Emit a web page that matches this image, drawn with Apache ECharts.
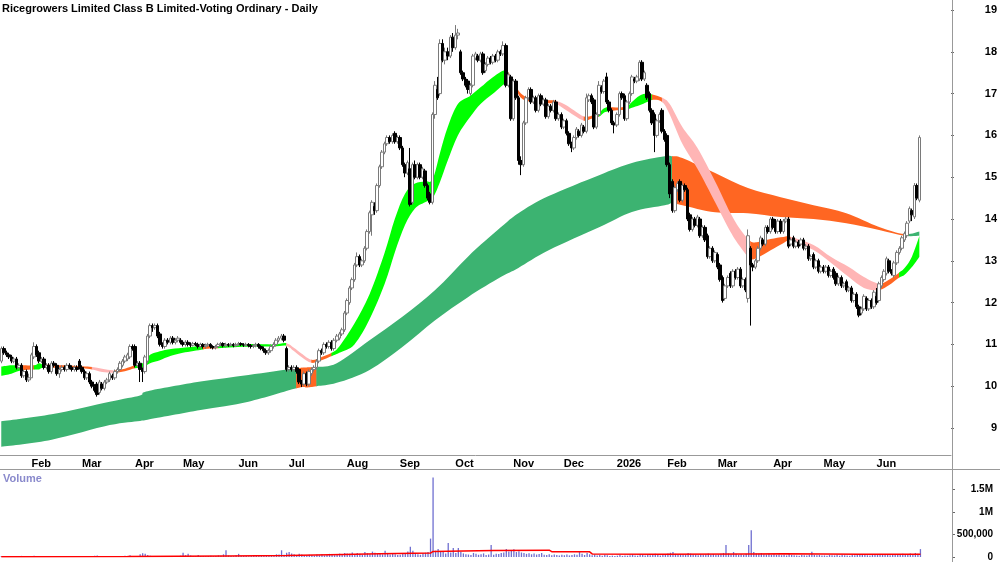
<!DOCTYPE html>
<html>
<head>
<meta charset="utf-8">
<script src="https://cdn.jsdelivr.net/npm/echarts@6/dist/echarts.min.js"></script>
<style>
  html, body { margin: 0; padding: 0; background: #fff; }
  #chart { width: 1000px; height: 562px; }
</style>
</head>
<body>
<div id="chart"></div>
<script>
// ---- data ----
const startDate = '2025-01-15';
const endDate = '2026-06-25';
const holidays = ['2025-01-27', '2025-04-18', '2025-04-21', '2025-04-25', '2025-06-09', '2025-12-25', '2025-12-26',
  '2026-01-01', '2026-01-26', '2026-04-03', '2026-04-06', '2026-06-08'];
const monthNames = ['Jan', 'Feb', 'Mar', 'Apr', 'May', 'Jun', 'Jul', 'Aug', 'Sep', 'Oct', 'Nov', 'Dec'];

// [open, close, low, high] per trading day
const ohlc = [
  [10.6,10.9,10.55,10.95],[10.9,10.8,10.75,10.95],[10.8,10.75,10.7,10.85],[10.75,10.7,10.65,10.8],[10.7,10.6,10.55,10.75],
  [10.6,10.65,10.55,10.7],[10.65,10.45,10.4,10.7],[10.45,10.5,10.4,10.55],[10.5,10.25,10.2,10.55],[10.25,10.35,10.2,10.4],
  [10.35,10.15,10.1,10.4],[10.15,10.2,10.1,10.3],[10.2,10.75,10.2,10.8],[10.7,10.95,10.65,11.05],[10.95,10.75,10.7,11.0],
  [10.8,10.6,10.55,10.85],[10.6,10.65,10.55,10.7],[10.65,10.45,10.4,10.7],[10.45,10.5,10.4,10.55],[10.5,10.35,10.3,10.55],
  [10.35,10.55,10.3,10.6],[10.55,10.5,10.45,10.6],[10.5,10.3,10.25,10.55],[10.3,10.4,10.2,10.45],[10.4,10.45,10.35,10.5],
  [10.45,10.4,10.35,10.5],[10.4,10.5,10.35,10.55],[10.5,10.45,10.4,10.55],[10.45,10.4,10.35,10.5],[10.4,10.45,10.35,10.5],
  [10.45,10.4,10.35,10.5],[10.6,10.45,10.4,10.65],[10.45,10.35,10.3,10.5],[10.35,10.2,10.15,10.4],[10.2,10.3,10.15,10.35],
  [10.3,10.1,10.05,10.35],[10.1,10.0,9.95,10.15],[10.0,9.9,9.85,10.05],[10.05,9.8,9.75,10.1],[9.85,10.1,9.8,10.15],
  [10.05,9.95,9.9,10.1],[9.95,10.1,9.9,10.15],[10.1,10.15,10.05,10.2],[10.15,10.3,10.1,10.35],[10.25,10.2,10.15,10.3],
  [10.2,10.35,10.15,10.4],[10.35,10.4,10.3,10.45],[10.4,10.55,10.35,10.6],[10.5,10.6,10.45,10.65],[10.6,10.7,10.55,10.75],
  [10.65,10.75,10.6,10.8],[10.7,10.95,10.65,11.0],[10.95,10.9,10.85,11.0],[10.95,10.5,10.45,11.0],[10.5,10.55,10.45,10.6],
  [10.55,10.4,10.1,10.6],[10.4,10.35,10.1,10.45],[10.35,10.7,10.3,10.75],[10.6,11.2,10.55,11.25],[11.2,11.45,11.15,11.5],
  [11.45,11.4,11.3,11.5],[11.4,11.45,11.35,11.5],[11.45,11.2,11.15,11.5],[11.25,11.0,10.95,11.3],[11.0,10.95,10.9,11.05],
  [10.95,11.1,10.9,11.15],[11.1,11.05,11.0,11.15],[11.05,11.15,11.0,11.2],[11.15,11.05,11.0,11.2],[11.05,11.1,11.0,11.15],
  [11.1,11.15,11.05,11.2],[11.1,11.05,11.0,11.15],[11.05,11.0,10.95,11.1],[11.0,11.05,10.95,11.1],[11.05,11.0,10.95,11.1],
  [11.0,10.98,10.93,11.05],[10.98,11.02,10.95,11.06],[11.02,11.0,10.96,11.06],[11.0,10.95,10.9,11.04],[10.95,11.0,10.9,11.04],
  [11.0,10.95,10.9,11.03],[10.95,10.98,10.9,11.02],[10.98,11.0,10.94,11.04],[11.0,10.95,10.9,11.03],[10.95,10.92,10.88,10.98],
  [10.92,10.95,10.88,10.99],[10.95,11.0,10.92,11.04],[11.0,11.02,10.96,11.06],[11.02,10.97,10.93,11.05],[10.97,11.0,10.93,11.04],
  [11.0,10.98,10.94,11.03],[10.98,11.0,10.95,11.04],[11.0,10.97,10.93,11.03],[10.97,11.0,10.94,11.04],[11.0,11.02,10.96,11.06],
  [11.02,11.0,10.96,11.05],[11.0,10.98,10.94,11.03],[10.98,11.0,10.95,11.04],[11.0,10.97,10.93,11.03],[10.97,10.95,10.9,11.01],
  [10.95,10.97,10.91,11.01],[10.97,11.0,10.93,11.04],[11.0,10.95,10.9,11.03],[10.95,10.9,10.86,10.98],[10.9,10.85,10.8,10.95],
  [10.85,10.8,10.75,10.9],[10.8,10.85,10.75,10.9],[10.85,10.95,10.8,11.0],[10.95,11.0,10.9,11.05],[11.0,11.1,10.95,11.15],
  [11.1,11.15,11.05,11.2],[11.15,11.2,11.1,11.25],[11.2,11.1,11.05,11.25],[10.9,10.4,10.35,10.95],[10.4,10.45,10.35,10.5],
  [10.45,10.4,10.35,10.5],[10.4,10.45,10.35,10.5],[10.45,10.35,10.3,10.5],[10.4,10.1,10.05,10.45],[10.1,10.05,9.98,10.15],
  [10.05,10.3,10.0,10.35],[10.3,10.05,10.0,10.35],[10.05,10.35,10.0,10.4],[10.3,10.4,10.25,10.45],[10.4,10.45,10.35,10.5],
  [10.45,10.6,10.4,10.65],[10.6,10.85,10.55,10.9],[10.85,10.8,10.75,10.9],[10.8,11.0,10.75,11.05],[11.0,10.95,10.9,11.05],
  [10.95,11.05,10.9,11.1],[11.05,10.9,10.85,11.1],[10.9,11.1,10.85,11.15],[11.1,11.2,11.05,11.25],[11.15,11.25,11.1,11.3],
  [11.25,11.35,11.2,11.4],[11.35,11.75,11.3,11.8],[11.75,12.05,11.7,12.1],[12.0,12.35,11.95,12.4],[12.35,12.55,12.3,12.6],
  [12.55,12.9,12.5,12.95],[12.9,13.1,12.85,13.2],[13.1,12.9,12.85,13.15],[12.9,13.0,12.85,13.05],[13.0,13.3,12.95,13.35],
  [13.3,13.7,13.25,13.75],[13.7,14.15,13.65,14.2],[14.1,14.4,13.6,14.45],[14.3,14.2,14.1,14.4],[14.2,14.8,14.15,14.85],
  [14.8,15.25,14.75,15.3],[15.25,15.6,15.2,15.65],[15.6,15.8,15.55,15.85],[15.8,15.95,15.75,16.0],[15.95,15.85,15.8,16.0],
  [15.85,16.0,15.8,16.05],[16.05,15.85,15.8,16.1],[15.85,15.95,15.8,16.0],[15.95,15.7,15.65,16.0],[15.7,15.3,15.25,15.75],
  [15.3,15.1,15.0,15.35],[15.1,15.35,15.05,15.4],[15.2,14.35,14.3,15.7],[14.4,15.3,14.35,15.35],[15.3,15.0,14.95,15.4],
  [15.0,15.3,14.95,15.35],[15.3,15.0,14.95,15.35],[15.0,15.2,14.95,15.25],[15.15,14.8,14.75,15.2],[14.8,14.5,14.45,14.85],
  [14.6,14.4,14.35,14.65],[14.4,16.5,14.35,16.55],[16.5,17.2,16.4,17.3],[17.1,16.9,16.85,17.4],[17.0,18.2,16.95,18.3],
  [18.2,17.8,17.75,18.3],[17.8,18.0,17.7,18.1],[18.0,17.9,17.8,18.1],[17.9,18.35,17.85,18.4],[18.35,18.1,18.0,18.45],
  [18.1,18.4,18.05,18.64],[18.4,18.45,18.3,18.55],[18.0,17.5,17.45,18.05],[17.5,17.35,17.3,17.55],[17.35,17.2,17.15,17.4],
  [17.3,17.1,17.0,17.35],[17.0,17.2,16.95,17.25],[17.2,17.9,17.15,17.95],[17.85,17.95,17.8,18.0],[17.9,17.8,17.75,17.95],
  [17.8,17.95,17.75,18.0],[17.95,17.5,17.45,18.0],[17.55,17.7,17.5,17.75],[17.7,17.85,17.65,17.9],[17.85,17.75,17.7,17.9],
  [17.75,17.9,17.7,17.95],[17.9,17.8,17.75,17.95],[17.8,18.0,17.75,18.05],[18.0,17.95,17.9,18.05],[17.95,18.15,17.9,18.25],
  [18.15,17.2,17.15,18.2],[17.2,17.45,17.15,17.5],[17.4,16.4,16.35,17.45],[16.4,17.3,16.35,17.35],[17.3,16.9,16.85,17.35],
  [16.9,15.4,15.3,16.95],[15.4,15.3,15.05,15.5],[15.3,16.3,15.25,16.35],[16.3,16.9,16.25,16.95],[16.9,17.1,16.85,17.15],
  [17.1,16.8,16.75,17.15],[16.8,16.9,16.75,16.95],[16.9,16.6,16.55,16.95],[16.6,16.95,16.55,17.0],[16.95,16.75,16.7,17.0],
  [16.75,16.85,16.7,16.9],[16.85,16.45,16.4,16.9],[16.45,16.7,16.4,16.75],[16.7,16.6,16.55,16.75],[16.6,16.8,16.55,16.85],
  [16.8,16.4,16.35,16.85],[16.4,16.5,16.35,16.55],[16.5,16.2,16.15,16.55],[16.2,16.35,16.15,16.4],[16.35,16.05,16.0,16.4],
  [16.05,15.8,15.75,16.1],[15.8,15.7,15.6,15.85],[15.7,15.95,15.65,16.0],[15.95,16.15,15.9,16.2],[16.1,16.0,15.95,16.15],
  [16.0,16.25,15.95,16.3],[16.2,16.1,16.05,16.25],[16.1,16.9,16.05,17.0],[16.85,16.95,16.8,17.0],[16.95,16.8,16.75,17.0],
  [16.85,16.2,16.15,16.9],[16.2,16.5,16.15,16.55],[16.5,17.2,16.45,17.3],[17.15,17.05,17.0,17.2],[17.05,17.3,17.0,17.35],
  [17.4,16.8,16.75,17.5],[16.8,16.6,16.55,16.85],[16.6,16.3,16.25,16.65],[16.3,16.25,16.05,16.35],[16.25,16.5,16.2,16.55],
  [16.5,17.0,16.45,17.05],[17.0,16.9,16.85,17.05],[16.95,16.4,16.35,17.0],[16.4,16.8,16.35,16.85],[16.8,17.0,16.75,17.05],
  [17.0,17.4,16.95,17.45],[17.35,17.3,17.25,17.4],[17.3,17.4,17.25,17.45],[17.35,17.75,17.3,17.8],[17.75,17.35,17.3,17.8],
  [17.35,17.5,17.3,17.55],[17.2,16.9,16.85,17.25],[17.0,16.6,16.55,17.05],[16.6,16.3,16.25,16.65],[16.5,16.0,15.6,16.55],
  [16.0,16.35,15.95,16.4],[16.35,16.5,16.3,16.55],[16.6,16.1,16.05,16.65],[16.1,15.9,15.85,16.15],[16.0,15.3,15.25,16.05],
  [15.3,14.6,14.5,15.35],[14.9,14.2,14.15,14.95],[14.2,14.75,14.15,14.8],[14.7,14.85,14.65,14.9],[14.9,14.45,14.4,14.95],
  [14.45,14.8,14.4,14.85],[14.8,14.7,14.65,14.85],[14.7,14.0,13.95,14.75],[14.1,13.75,13.7,14.15],[13.75,14.0,13.7,14.05],
  [14.0,13.85,13.8,14.05],[13.85,14.05,13.8,14.1],[14.0,13.6,13.55,14.05],[13.6,13.8,13.55,13.85],[13.8,13.5,13.45,13.85],
  [13.6,13.1,13.05,13.65],[13.1,13.3,13.05,13.35],[13.3,13.0,12.95,13.35],[13.0,13.2,12.95,13.25],[13.15,12.85,12.8,13.2],
  [12.9,12.55,12.5,12.95],[12.6,12.05,12.0,12.65],[12.1,12.4,12.05,12.45],[12.4,12.6,12.35,12.65],[12.7,12.4,12.35,12.75],
  [12.4,12.75,12.35,12.8],[12.75,12.6,12.55,12.8],[12.6,12.8,12.55,12.85],[12.8,12.4,12.35,12.85],[12.4,12.55,12.35,12.6],
  [12.55,12.3,12.25,12.6],[12.1,13.6,12.0,13.75],[13.3,12.9,11.45,13.35],[12.9,12.85,12.75,12.95],[12.85,13.0,12.8,13.05],
  [13.0,13.3,12.95,13.35],[13.3,13.55,13.25,13.6],[13.5,13.4,13.35,13.55],[13.4,13.8,13.35,13.85],[13.8,13.7,13.65,13.85],
  [13.7,14.0,13.65,14.05],[14.0,13.8,13.75,14.05],[13.95,13.7,13.65,14.0],[13.7,13.95,13.65,14.0],[13.95,13.7,13.65,14.0],
  [13.7,13.95,13.65,14.0],[13.95,14.0,13.9,14.05],[14.0,13.35,13.3,14.05],[13.4,13.5,13.35,13.55],[13.55,13.35,13.3,13.6],
  [13.35,13.45,13.3,13.5],[13.45,13.35,13.3,13.5],[13.4,13.5,13.35,13.55],[13.5,13.3,13.25,13.55],[13.3,13.35,13.25,13.4],
  [13.35,13.05,13.0,13.4],[13.05,13.1,13.0,13.15],[13.15,12.85,12.8,13.2],[12.85,13.0,12.8,13.05],[13.0,12.75,12.7,13.05],
  [12.75,12.85,12.7,12.9],[12.85,12.75,12.7,12.9],[12.75,12.85,12.7,12.9],[12.85,12.65,12.6,12.9],[12.65,12.75,12.6,12.8],
  [12.8,12.6,12.55,12.85],[12.7,12.45,12.4,12.75],[12.45,12.6,12.4,12.65],[12.6,12.4,12.35,12.65],[12.4,12.45,12.35,12.5],
  [12.5,12.3,12.25,12.55],[12.3,12.35,12.25,12.4],[12.35,12.05,12.0,12.4],[12.05,12.2,12.0,12.25],[12.2,11.9,11.85,12.25],
  [11.9,11.7,11.65,11.95],[11.75,11.85,11.7,11.9],[11.85,12.15,11.8,12.2],[12.1,11.85,11.8,12.15],[11.85,12.05,11.8,12.1],
  [12.05,11.9,11.85,12.1],[11.9,12.25,11.85,12.3],[12.15,12.0,11.95,12.35],[12.05,12.45,12.0,12.5],[12.4,12.6,12.35,12.65],
  [12.55,12.75,12.5,12.8],[12.7,13.05,12.65,13.1],[13.0,12.75,12.7,13.05],[12.75,12.7,12.65,12.8],[12.65,12.95,12.6,13.0],
  [12.95,13.2,12.9,13.25],[13.2,13.3,13.15,13.35],[13.3,13.55,13.25,13.6],[13.5,13.65,13.45,13.7],[13.6,13.9,13.55,13.95],
  [13.95,14.25,13.9,14.3],[14.2,14.1,13.95,14.25],[14.05,14.8,14.0,14.86],[14.8,14.5,14.45,14.85],[14.45,15.95,14.4,16.0]
];

// daily volume, thousands of shares
const volumeK = [
  18,12,9,15,22,8,14,11,25,16,10,13,
  20,28,12,9,14,18,11,7,16,13,22,10,12,9,15,17,8,11,14,19,
  21,15,12,18,25,30,35,22,14,12,10,16,13,9,18,20,14,26,22,40,18,
  25,18,60,85,70,45,30,22,18,15,20,25,18,12,16,20,14,22,30,95,
  40,70,35,20,18,45,25,20,15,22,30,18,24,35,28,60,150,35,22,18,40,
  70,30,25,20,18,22,35,30,25,40,30,28,35,45,40,60,55,150,50,95,
  110,80,60,45,70,55,40,35,50,45,30,55,40,60,35,45,70,50,40,60,75,55,90,
  80,70,100,60,90,75,50,110,85,60,120,95,70,80,60,140,90,55,70,60,45,
  50,80,70,120,230,140,90,60,50,85,95,110,410,1770,140,176,120,110,80,310,100,200,
  90,200,110,80,60,55,45,90,70,50,60,80,45,55,265,50,70,65,90,100,180,120,150,
  175,110,130,100,90,70,85,60,80,55,65,90,50,45,60,40,55,45,35,50,
  40,55,35,45,60,50,115,70,45,90,60,40,55,35,45,30,50,40,25,30,20,
  30,45,25,35,30,40,55,35,30,60,45,35,50,40,55,70,45,35,50,60,
  80,95,110,70,55,60,50,45,90,75,50,45,40,60,45,55,80,50,65,45,
  55,70,90,265,80,60,110,70,50,60,45,70,265,595,110,80,70,90,60,55,70,50,
  60,45,55,40,50,35,70,45,40,35,30,45,40,35,50,117,45,40,45,35,
  35,30,45,40,35,50,30,45,40,35,30,50,40,55,60,45,50,40,35,45,50,
  45,55,50,60,55,40,45,50,60,55,70,60,65,80,60,90,75,176
];

// red volume average line: [day index, thousands]
const volumeAvgK = [
  [0, 8], [50, 12], [90, 25], [113, 35], [130, 50], [150, 70], [170, 88], [171, 125], [195, 145],
  [217, 152], [218, 118], [233, 115], [234, 68], [260, 62], [296, 68], [310, 70], [340, 62], [364, 60]
];

// short-term ribbon: [day index, upper, lower, state of the stretch that follows]
const shortRibbon = [
  [0,10.47,10.25,'up'],[4,10.5,10.3,'up'],[8,10.5,10.38,'flat'],[13,10.5,10.4,'up'],[15,10.55,10.4,'up'],
  [17,10.52,10.44,'flat'],[25,10.5,10.44,'flat'],[32,10.48,10.43,'flat'],[36,10.46,10.4,'down'],[40,10.42,10.34,'down'],
  [44,10.38,10.32,'down'],[45,10.38,10.32,'flat'],[49,10.42,10.36,'flat'],[53,10.5,10.43,'up'],[56,10.55,10.45,'up'],
  [59,10.75,10.55,'up'],[62,10.82,10.6,'up'],[66,10.88,10.7,'up'],[72,10.92,10.8,'up'],[80,10.97,10.88,'flat'],
  [83,10.96,10.9,'flat'],[86,10.97,10.91,'up'],[92,11.0,10.93,'up'],[100,11.01,10.95,'up'],[108,11.0,10.95,'up'],
  [113,11.03,10.97,'down'],[116,10.92,10.84,'down'],[119,10.78,10.7,'down'],[123,10.63,10.56,'flat'],[127,10.7,10.62,'flat'],
  [131,10.8,10.72,'up'],[134,10.95,10.8,'up'],[140,11.5,11.0,'up'],[146,12.2,11.6,'up'],[152,13.2,12.45,'up'],
  [156,14.0,13.2,'up'],[160,14.6,13.85,'up'],[164,14.85,14.25,'up'],[168,14.9,14.4,'up'],[171,14.95,14.5,'up'],
  [174,15.6,14.9,'up'],[177,16.2,15.4,'up'],[181,16.75,16.0,'up'],[186,16.95,16.45,'up'],[190,17.15,16.75,'up'],
  [195,17.4,17.0,'up'],[200,17.56,17.25,'flat'],[203,17.3,17.2,'flat'],[206,17.0,16.9,'flat'],[210,16.88,16.8,'flat'],
  [216,16.85,16.77,'flat'],[220,16.83,16.75,'down'],[224,16.72,16.6,'down'],[227,16.6,16.48,'down'],[231,16.45,16.35,'flat'],
  [234,16.47,16.4,'flat'],[237,16.55,16.45,'up'],[239,16.65,16.55,'up'],[241,16.68,16.58,'flat'],[244,16.67,16.6,'flat'],
  [248,16.7,16.62,'up'],[250,16.8,16.66,'up'],[253,16.95,16.72,'up'],[256,17.0,16.8,'up'],[258,16.98,16.85,'flat'],
  [262,16.9,16.8,'down'],[265,16.75,16.5,'down'],[270,16.2,15.8,'down'],[276,15.7,15.2,'down'],[283,14.9,14.4,'down'],
  [289,14.15,13.7,'down'],[293,13.75,13.33,'down'],[297,13.47,13.05,'flat'],[300,13.45,13.08,'flat'],[305,13.52,13.25,'flat'],
  [310,13.57,13.42,'flat'],[313,13.57,13.47,'down'],[322,13.38,13.26,'down'],[329,13.09,12.95,'down'],[336,12.85,12.61,'down'],
  [342,12.61,12.35,'down'],[348,12.45,12.3,'flat'],[352,12.55,12.42,'flat'],[356,12.72,12.6,'up'],[358,12.82,12.66,'up'],
  [361,13.1,12.85,'up'],[364,13.6,13.1,'up']
];

// long-term ribbon: [day index, upper, lower, state of the stretch that follows]
const longRibbon = [
  [0,9.16,8.55,'up'],[20,9.33,8.72,'up'],[43,9.63,9.07,'up'],[55,9.78,9.17,'up'],[58,9.88,9.2,'up'],
  [79,10.11,9.43,'up'],[98,10.27,9.63,'up'],[117,10.43,9.95,'flat'],[121,10.45,9.97,'flat'],[125,10.46,10.0,'up'],
  [133,10.55,10.08,'up'],[146,11.1,10.39,'up'],[159,11.66,10.94,'up'],[172,12.3,11.58,'up'],[185,13.1,12.13,'up'],
  [198,13.8,12.61,'up'],[205,14.14,12.83,'up'],[217,14.55,13.25,'up'],[237,15.05,13.8,'up'],[250,15.34,14.17,'up'],
  [263,15.5,14.33,'up'],[266,15.5,14.38,'flat'],[270,15.46,14.33,'flat'],[283,15.1,14.16,'flat'],[296,14.74,14.14,'flat'],
  [309,14.52,14.05,'flat'],[322,14.33,14.0,'flat'],[335,14.14,13.9,'flat'],[348,13.81,13.74,'flat'],[358,13.64,13.6,'up'],
  [364,13.7,13.6,'up']
];

const priceMin = 8.354;
const priceMax = 19.24;
const volumeMax = 1940000;
const padDays = 12;

// ---- build ----
const FONT = "'Liberation Sans', Arial, sans-serif";
const shortColors = { up: '#00ff00', flat: '#ff6622', down: '#ffb5b5' };
const longColors = { up: '#3cb371', flat: '#ff6622' };

function tradingDays(from, to, skip) {
  const out = [];
  const d = new Date(from + 'T00:00:00Z');
  const end = new Date(to + 'T00:00:00Z');
  while (d <= end) {
    const s = d.toISOString().slice(0, 10);
    const wd = d.getUTCDay();
    if (wd !== 0 && wd !== 6 && skip.indexOf(s) < 0) out.push(s);
    d.setUTCDate(d.getUTCDate() + 1);
  }
  return out;
}

const dates = tradingDays(startDate, endDate, holidays);
const cats = dates.concat(new Array(padDays).fill(''));
const isMonthStart = cats.map((c, i) => i > 0 && c !== '' && c.slice(5, 7) !== cats[i - 1].slice(5, 7));

function ribbonSegments(rows) {
  const segs = [];
  let s = 0;
  for (let i = 1; i < rows.length; i++) {
    if (rows[i][3] !== rows[s][3]) {
      segs.push([s, i]);
      s = i;
    }
  }
  if (s < rows.length - 1) segs.push([s, rows.length - 1]);
  return segs;
}

// smooth path through screen points (cardinal spline drawn as cubic curves)
function curveThrough(pts, moveFirst) {
  let d = (moveFirst ? 'M' : 'L') + pts[0][0].toFixed(2) + ',' + pts[0][1].toFixed(2);
  const t = 0.5 / 3;
  for (let i = 0; i < pts.length - 1; i++) {
    const p0 = pts[Math.max(0, i - 1)], p1 = pts[i], p2 = pts[i + 1], p3 = pts[Math.min(pts.length - 1, i + 2)];
    const c1 = [p1[0] + (p2[0] - p0[0]) * t, p1[1] + (p2[1] - p0[1]) * t];
    const c2 = [p2[0] - (p3[0] - p1[0]) * t, p2[1] - (p3[1] - p1[1]) * t];
    d += 'C' + c1[0].toFixed(2) + ',' + c1[1].toFixed(2) + ' ' + c2[0].toFixed(2) + ',' + c2[1].toFixed(2) +
      ' ' + p2[0].toFixed(2) + ',' + p2[1].toFixed(2);
  }
  return d;
}

// one filled band per colour stretch; the whole edge is drawn and clipped to the stretch
function ribbonSeries(rows, colors, z) {
  const segs = ribbonSegments(rows);
  return {
    type: 'custom',
    xAxisIndex: 0,
    yAxisIndex: 0,
    z: z,
    silent: true,
    renderItem: function (params, api) {
      const seg = segs[params.dataIndex];
      const top = rows.map(r => api.coord([r[0], r[1]]));
      const bot = rows.map(r => api.coord([r[0], r[2]])).reverse();
      const pathData = curveThrough(top, true) + curveThrough(bot, false) + 'Z';
      const x0 = api.coord([rows[seg[0]][0], 0])[0];
      const x1 = api.coord([rows[seg[1]][0], 0])[0];
      const fill = colors[rows[seg[0]][3]];
      return {
        type: 'group',
        children: [{
          type: 'group',
          clipPath: { type: 'rect', shape: { x: x0 - 0.25, y: 0, width: x1 - x0 + 0.5, height: 600 } },
          children: [{
            type: 'path',
            shape: { pathData: pathData },
            style: { fill: fill }
          }]
        }]
      };
    },
    data: segs.map(s => [rows[s[0]][0], rows[s[0]][1]])
  };
}

const chart = echarts.init(document.getElementById('chart'));
chart.setOption({
  animation: false,
  backgroundColor: '#fff',
  title: {
    text: 'Ricegrowers Limited Class B Limited-Voting Ordinary - Daily',
    left: 2, top: 3, padding: 0,
    textStyle: { fontSize: 11, fontWeight: 'bold', color: '#000', fontFamily: FONT }
  },
  graphic: [
    { type: 'line', shape: { x1: 0, y1: 469.5, x2: 1000, y2: 469.5 }, style: { stroke: '#999', lineWidth: 1 }, z: 10 },
    { type: 'line', shape: { x1: 952.5, y1: 0, x2: 952.5, y2: 562 }, style: { stroke: '#999', lineWidth: 1 }, z: 10 },
    { type: 'text', left: 3, top: 473, style: { text: 'Volume', fill: '#8a8acc', font: 'bold 11px ' + FONT }, z: 10 }
  ],
  grid: [
    { left: 0, right: 48, top: 0, bottom: 107 },
    { left: 0, right: 48, top: 470, bottom: 5 }
  ],
  xAxis: [
    {
      type: 'category', gridIndex: 0, data: cats,
      axisLine: { lineStyle: { color: '#999' } },
      axisTick: { interval: (i) => isMonthStart[i], length: 3, lineStyle: { color: '#666' } },
      axisLabel: {
        interval: (i) => isMonthStart[i],
        formatter: (v) => v === '' ? '' : (v.slice(5, 7) === '01' ? v.slice(0, 4) : monthNames[+v.slice(5, 7) - 1]),
        align: 'left', margin: 3, padding: [0, 0, 0, 0],
        color: '#000', fontWeight: 'bold', fontSize: 11, fontFamily: FONT
      },
      splitLine: { show: false }
    },
    {
      type: 'category', gridIndex: 1, data: cats,
      axisLine: { show: false }, axisTick: { show: false }, axisLabel: { show: false }, splitLine: { show: false }
    }
  ],
  yAxis: [
    {
      type: 'value', gridIndex: 0, position: 'right', min: priceMin, max: priceMax, splitNumber: 10,
      axisLine: { show: false },
      axisTick: { show: true, length: 3, lineStyle: { color: '#666' } },
      axisLabel: {
        showMinLabel: false, showMaxLabel: false,
        formatter: (v) => (Math.abs(v - Math.round(v)) < 1e-6 ? String(Math.round(v)) : ''),
        align: 'right', margin: 46,
        color: '#000', fontWeight: 'bold', fontSize: 11, fontFamily: FONT
      },
      splitLine: { show: false }
    },
    {
      type: 'value', gridIndex: 1, position: 'right', min: 0, max: volumeMax, interval: 500000,
      axisLine: { show: false },
      axisTick: { show: true, length: 3, lineStyle: { color: '#666' } },
      axisLabel: {
        showMaxLabel: false,
        formatter: (v) => v === 0 ? '0' : (v === 500000 ? '500,000' : (v % 500000 === 0 ? (v / 1e6) + 'M' : '')),
        align: 'right', margin: 41,
        color: '#000', fontWeight: 'bold', fontSize: 10, fontFamily: FONT
      },
      splitLine: { show: false }
    }
  ],
  series: [
    ribbonSeries(longRibbon, longColors, 1),
    ribbonSeries(shortRibbon, shortColors, 2),
    {
      type: 'candlestick',
      xAxisIndex: 0, yAxisIndex: 0,
      z: 5,
      barWidth: 3,
      data: ohlc,
      itemStyle: {
        color: '#ffffff', color0: '#000000',
        borderColor: '#7a7a7a', borderColor0: '#000000', borderWidth: 1
      }
    },
    {
      type: 'bar',
      xAxisIndex: 1, yAxisIndex: 1,
      barWidth: 1.3,
      data: volumeK.map(v => v * 1000),
      itemStyle: { color: '#6f6fd0' }
    },
    {
      type: 'line',
      xAxisIndex: 1, yAxisIndex: 1,
      showSymbol: false,
      data: volumeAvgK.map(p => [p[0], p[1] * 1000]),
      lineStyle: { color: '#ff0000', width: 1.5 },
      z: 4
    }
  ]
});
</script>
</body>
</html>
